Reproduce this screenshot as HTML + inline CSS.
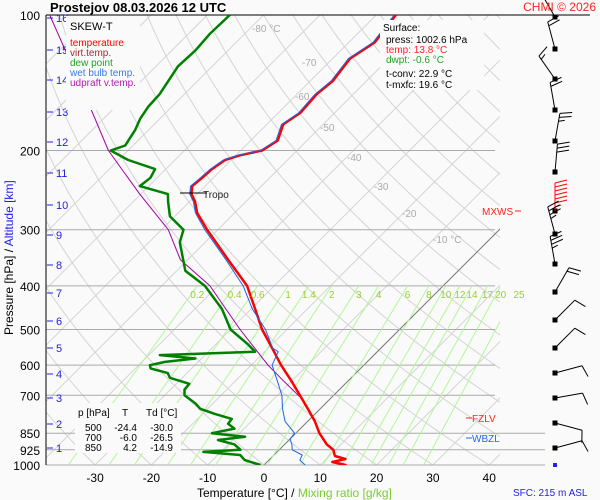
<!DOCTYPE html>
<html><head><meta charset="utf-8"><style>
body{margin:0;background:#fafafa;}
svg{display:block;font-family:"Liberation Sans",sans-serif;}
</style></head><body>
<svg id="c" width="600" height="500" viewBox="0 0 600 500">
<rect x="0" y="0" width="600" height="500" fill="#fafafa"/>
<defs><clipPath id="pc"><rect x="46" y="15" width="454" height="450"/></clipPath></defs>
<g id="grid" clip-path="url(#pc)"></g>
<g id="iso0" clip-path="url(#pc)"></g>
<g id="plevels"></g>
<g id="mix" clip-path="url(#pc)"></g>
<g id="series" clip-path="url(#pc)"></g>
<g id="labels"></g>
<g id="barbs"></g>
</svg>
<script>
// ---- data ----
const pressureTicks=[100,200,300,400,500,600,700,850,925,1000];
const tempTicks=[-30,-20,-10,0,10,20,30,40];
const isoLabels=[-80,-70,-60,-50,-40,-30,-20,-10];
const altKm=[1,2,3,4,5,6,7,8,9,10,11,12,13,14,15,16];
const altY=[448,424,398,374,348,321,293,265,235,205,173,142,112,80,50,18];
const mixRatios=[0.2,0.4,0.6,1,1.4,2,3,4,6,8,10,12,14,17,20,25];
const tempP=[1002.6,1000,985,970,955,925,900,850,800,750,700,650,600,550,500,450,400,350,300,275,260,250,240,230,220,210,205,200,190,175,165,150,140,125,115,100];
const tempT=[13.8,14.5,11.6,13.4,11,9.6,7.5,4.2,1.3,-2.2,-6,-10.1,-14.7,-19.3,-24.4,-29.3,-34.8,-42.8,-51.9,-56.7,-59,-61,-62.3,-62,-61.8,-61.1,-59.3,-56.2,-55.2,-57.1,-56.1,-56.5,-56,-56.9,-55.4,-56.5];
const dewP=[1000,975,950,935,925,900,880,865,850,830,810,790,770,750,730,700,680,660,640,625,610,600,590,580,570,560,540,500,450,400,370,350,320,300,280,260,250,240,230,220,210,200,195,180,170,160,150,130,120,110,100];
const dewT=[-0.6,-4.3,-6,-13.1,-6.9,-8.9,-12.6,-8.4,-14.9,-11.7,-13.7,-13.9,-17.8,-21.3,-23.1,-26.5,-27.5,-27.7,-32.2,-33.4,-37.3,-38,-35.9,-31.1,-38,-21.7,-24.2,-30,-35.2,-42.3,-48.5,-50.8,-54.5,-56.1,-60.9,-63.8,-65.2,-71.6,-71.2,-71.9,-78.3,-83.1,-81.4,-82.4,-83.5,-84.2,-84.4,-86.1,-85.8,-86.2,-86];
const wbP=[1000,975,950,925,900,875,850,800,750,700,650,600,560,550,500,450,400,350,300,275,260,250,240,230,220,210,205,200,190,175,165,150,140,125,115,100];
const wbT=[7.3,5.5,5,2.3,1.3,0,-0.2,-4,-6.7,-9.2,-12.6,-16.3,-17.6,-19.2,-23.8,-29.8,-35.5,-43.2,-52.3,-57,-59.3,-61.3,-62.6,-62.3,-62.1,-61.4,-59.6,-56.5,-55.5,-57.4,-56.4,-56.8,-56.3,-57.2,-55.7,-56.8];
const updP=[705,650,600,550,500,450,400,350,300,250,200,150,100];
const updT=[-5.8,-11.5,-17,-22.4,-28.3,-34.5,-41.4,-51.3,-58.8,-70.2,-83.5,-97.7,-118];
const barbY=[17,49,79,110,141,172,211,234,264,292,320,348,373,398,423,448];
const barbDir=[330,345,325,350,10,5,0,345,350,30,45,45,75,80,105,75];
const barbSpd=[15,20,15,20,25,30,65,35,35,20,10,10,10,10,10,10];

const NS="http://www.w3.org/2000/svg";
const Y=p=>15+450*Math.log10(p/100);
const X=(T,p)=>264+5.63*T+(465-Y(p));
function mk(tag,attrs,parent){const e=document.createElementNS(NS,tag);for(const k in attrs)e.setAttribute(k,attrs[k]);parent.appendChild(e);return e;}
const $=id=>document.getElementById(id);

for(let T=-160;T<=50;T+=10){
  const l=mk('line',{x1:X(T,1000),y1:465,x2:X(T,100),y2:15,stroke:T===0?'#777':'#d4d4d4','stroke-width':1},T===0?$('iso0'):$('grid'));
  
  
}
for(let th=-40;th<=220;th+=10){
  let d='';
  for(let p=1050;p>=100;p-=10){const T=(th+273.15)*Math.pow(p/1000,0.286)-273.15;d+=(d?'L':'M')+X(T,p).toFixed(1)+','+Y(p).toFixed(1);}
  const a=mk('path',{d:d,fill:'none',stroke:'#d4d4d4','stroke-width':1},$('grid'));
  
  
}
pressureTicks.forEach(p=>{
  const right=p===100?590:(p>=850?545:495);
  const l=mk('line',{x1:46,y1:Y(p),x2:right,y2:Y(p),stroke:p===100?'#000':'#aaa','stroke-width':1},$('plevels'));
  
  
  const t=mk('text',{x:40,y:Y(p)+5,'text-anchor':'end','font-size':12,fill:'#000'},$('labels'));
  t.textContent=p;
  
  
});
const ax=mk('line',{x1:46,y1:15,x2:46,y2:465,stroke:'#000'},$('plevels'));


function tdFromW(w,p){const e=w*p/(622+w);const l=Math.log(e/6.112);return 243.5*l/(17.67-l);}
mixRatios.forEach(w=>{
  const l=mk('line',{x1:X(tdFromW(w,1000),1000),y1:465,x2:X(tdFromW(w,400),400),y2:Y(400),stroke:'#b5f59a','stroke-width':1},$('mix'));
  
  
  const t=mk('text',{x:X(tdFromW(w,400),400),y:298,'text-anchor':'middle','font-size':10,fill:'#9acd32'},$('labels'));
  t.textContent=w;
  
  
});
const isoLX=[252,302,295,320,347,374,402,433];
const isoLY=[32,66,100,131,161,190,217,243];
isoLabels.forEach((T,i)=>{
  const t=mk('text',{x:isoLX[i],y:isoLY[i],'font-size':10,fill:'#aaa'},$('labels'));
  t.textContent=(i===0||i===7)?T+' °C':T;
  
  
});
tempTicks.forEach(T=>{
  const t=mk('text',{x:X(T,1000),y:482,'text-anchor':'middle','font-size':12,fill:'#000'},$('labels'));
  t.textContent=T;
  
  
});
altKm.forEach((k,i)=>{
  const l=mk('line',{x1:47,y1:altY[i],x2:53,y2:altY[i],stroke:'#2222dd'},$('labels'));
  
  
  const t=mk('text',{x:56,y:altY[i]+4,'font-size':11,fill:'#2222dd'},$('labels'));
  t.textContent=k;
  
  
});
function series(P,T,color,w,name){
  let d='';P.forEach((p,i)=>{d+=(i?'L':'M')+X(T[i],p).toFixed(1)+','+Y(p).toFixed(1);});
  const s=mk('path',{d:d,fill:'none',stroke:color,'stroke-width':w,'stroke-linejoin':'round'},$('series'));
  
  
}
series(updP,updT,'#a000a0',1,'updraft-line');
series(dewP,dewT,'#008000',2.5,'dew-point-line');
series(tempP,tempT,'#ff0000',2.5,'temperature-line');
series(wbP,wbT,'#1e64e6',1,'wet-bulb-line');
barbY.forEach((y,i)=>{
  const x=555;const a=barbDir[i]*Math.PI/180;const ux=Math.sin(a),uy=-Math.cos(a);
  const L=28;const ex=x+ux*L,ey=y+uy*L;
  const col=i===6?'#ff0000':'#000';
  const g=mk('g',{},$('barbs'));
  
  
  mk('rect',{x:x-2.5,y:y-2.5,width:5,height:5,fill:'#000'},g);
  mk('line',{x1:x,y1:y,x2:ex,y2:ey,stroke:col},g);
  let s=barbSpd[i],pos=0;
  const px=-uy,py=ux;
  while(s>=10){const bx=ex-ux*pos,by=ey-uy*pos;mk('line',{x1:bx,y1:by,x2:bx+px*12+ux*3,y2:by+py*12+uy*3,stroke:col},g);s-=10;pos+=4;}
  if(s>=5){const bx=ex-ux*pos,by=ey-uy*pos;mk('line',{x1:bx,y1:by,x2:bx+px*6+ux*2,y2:by+py*6+uy*2,stroke:col},g);}
});
const sd=mk('rect',{x:553,y:463,width:4,height:4,fill:'#2222ff'},$('barbs'));


</script>
<svg width="600" height="500" style="position:absolute;left:0;top:0">
<g font-family="Liberation Sans, sans-serif">
<text x="50" y="12" font-size="13" font-weight="bold">Prostejov   08.03.2026 12 UTC</text>
<text x="596" y="11" font-size="12" fill="#ff2222" text-anchor="end">CHMI © 2026</text>
<rect x="66" y="16" width="74" height="94" fill="#fafafa"/>
<text x="70" y="30" font-size="11">SKEW-T</text>
<text x="70" y="46" font-size="10" fill="#ff0000">temperature</text>
<text x="70" y="56" font-size="10" fill="#a52a2a">virt.temp.</text>
<text x="70" y="66" font-size="10" fill="#22a022">dew point</text>
<text x="70" y="76" font-size="10" fill="#3a7ae6">wet bulb temp.</text>
<text x="70" y="86" font-size="10" fill="#b020b0">udpraft v.temp.</text>
<rect x="380" y="20" width="104" height="70" fill="#fafafa"/>
<text x="383" y="31" font-size="10">Surface:</text>
<text x="386" y="43" font-size="10">press: 1002.6 hPa</text>
<text x="386" y="53" font-size="10" fill="#ff2222">temp: 13.8 °C</text>
<text x="386" y="63" font-size="10" fill="#22a022">dwpt: -0.6 °C</text>
<text x="386" y="77" font-size="10">t-conv: 22.9 °C</text>
<text x="386" y="88" font-size="10">t-mxfc: 19.6 °C</text>
<line x1="180" y1="193" x2="207" y2="193" stroke="#000"/>
<text x="203" y="198" font-size="10" fill="#222">Tropo</text>
<text x="482" y="215" font-size="10" fill="#ff2222">MXWS</text>
<line x1="515" y1="211" x2="521" y2="211" stroke="#ff2222"/>
<line x1="466" y1="418" x2="472" y2="418" stroke="#ff2222"/>
<text x="472" y="422" font-size="10" fill="#ff2222">FZLV</text>
<line x1="466" y1="438" x2="472" y2="438" stroke="#2266ee"/>
<text x="472" y="442" font-size="10" fill="#2266ee">WBZL</text>
<rect x="75" y="403" width="106" height="50" fill="#fafafa"/>
<g font-size="10">
<text x="78" y="416">p [hPa]</text><text x="122" y="416">T</text><text x="146" y="416">Td [°C]</text>
<text x="85" y="431">500</text><text x="137" y="431" text-anchor="end">-24.4</text><text x="173" y="431" text-anchor="end">-30.0</text>
<text x="85" y="441">700</text><text x="137" y="441" text-anchor="end">-6.0</text><text x="173" y="441" text-anchor="end">-26.5</text>
<text x="85" y="451">850</text><text x="137" y="451" text-anchor="end">4.2</text><text x="173" y="451" text-anchor="end">-14.9</text>
</g>
<text x="197" y="497" font-size="12">Temperature [°C]  / <tspan fill="#7acc30">Mixing ratio [g/kg]</tspan></text>
<text x="513" y="496" font-size="10" fill="#2222dd">SFC: 215 m ASL</text>
<text transform="translate(13,335) rotate(-90)" font-size="12">Pressure [hPa]  /  <tspan fill="#2222dd">Altitude [km]</tspan></text>
</g>
</svg>
</body></html>
